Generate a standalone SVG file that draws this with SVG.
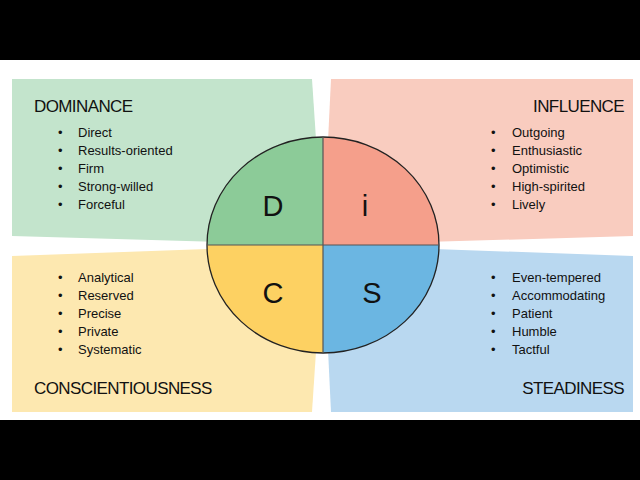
<svg xmlns="http://www.w3.org/2000/svg" width="640" height="480" viewBox="0 0 640 480">
<style>
text{font-family:"Liberation Sans",Arial,sans-serif;fill:#111}
.h{font-size:17px;letter-spacing:-0.6px}
.b{font-size:13px}
.L{font-size:29px}
</style>
<rect width="640" height="480" fill="#fff"/>
<rect width="640" height="60" fill="#000"/>
<rect y="420" width="640" height="60" fill="#000"/>
<g id="dominance">
<polygon points="12,79 312,79 323,245 12,236" fill="#c3e4cc"/>
<text class="h" x="34" y="112">DOMINANCE</text>
<g class="b"><text x="58" y="137">•</text><text x="78" y="137">Direct</text>
<text x="58" y="155">•</text><text x="78" y="155">Results-oriented</text>
<text x="58" y="173">•</text><text x="78" y="173">Firm</text>
<text x="58" y="191">•</text><text x="78" y="191">Strong-willed</text>
<text x="58" y="209">•</text><text x="78" y="209">Forceful</text></g>
</g>
<g id="influence">
<polygon points="331,79 633,79 633,236 323,245" fill="#f9ccbf"/>
<text class="h" x="624" y="112" text-anchor="end">INFLUENCE</text>
<g class="b"><text x="491" y="137">•</text><text x="512" y="137">Outgoing</text>
<text x="491" y="155">•</text><text x="512" y="155">Enthusiastic</text>
<text x="491" y="173">•</text><text x="512" y="173">Optimistic</text>
<text x="491" y="191">•</text><text x="512" y="191">High-spirited</text>
<text x="491" y="209">•</text><text x="512" y="209">Lively</text></g>
</g>
<g id="steadiness">
<polygon points="323,245 633,256 633,412 331,412" fill="#b9d8f0"/>
<text class="h" x="624" y="394" text-anchor="end">STEADINESS</text>
<g class="b"><text x="491" y="282">•</text><text x="512" y="282">Even-tempered</text>
<text x="491" y="300">•</text><text x="512" y="300">Accommodating</text>
<text x="491" y="318">•</text><text x="512" y="318">Patient</text>
<text x="491" y="336">•</text><text x="512" y="336">Humble</text>
<text x="491" y="354">•</text><text x="512" y="354">Tactful</text></g>
</g>
<g id="conscientiousness">
<polygon points="12,256 323,245 312,412 12,412" fill="#fde8b0"/>
<text class="h" x="34" y="394">CONSCIENTIOUSNESS</text>
<g class="b"><text x="58" y="282">•</text><text x="78" y="282">Analytical</text>
<text x="58" y="300">•</text><text x="78" y="300">Reserved</text>
<text x="58" y="318">•</text><text x="78" y="318">Precise</text>
<text x="58" y="336">•</text><text x="78" y="336">Private</text>
<text x="58" y="354">•</text><text x="78" y="354">Systematic</text></g>
</g>
<g id="circle">
<path d="M323,245 H207 A116,108 0 0 1 323,137 Z" fill="#8ccb98"/>
<path d="M323,245 V137 A116,108 0 0 1 439,245 Z" fill="#f59f8b"/>
<path d="M323,245 H439 A116,108 0 0 1 323,353 Z" fill="#6bb6e2"/>
<path d="M323,245 V353 A116,108 0 0 1 207,245 Z" fill="#fdd162"/>
<ellipse cx="323" cy="245" rx="116" ry="108" fill="none" stroke="#222" stroke-width="1.3"/>
<path d="M207,245 H439 M323,137 V353" stroke="#555" stroke-width="1.2"/>
<text class="L" x="273" y="216" text-anchor="middle">D</text>
<text class="L" x="365" y="216" text-anchor="middle">i</text>
<text class="L" x="273" y="303" text-anchor="middle">C</text>
<text class="L" x="372" y="303" text-anchor="middle">S</text>
</g>
</svg>
